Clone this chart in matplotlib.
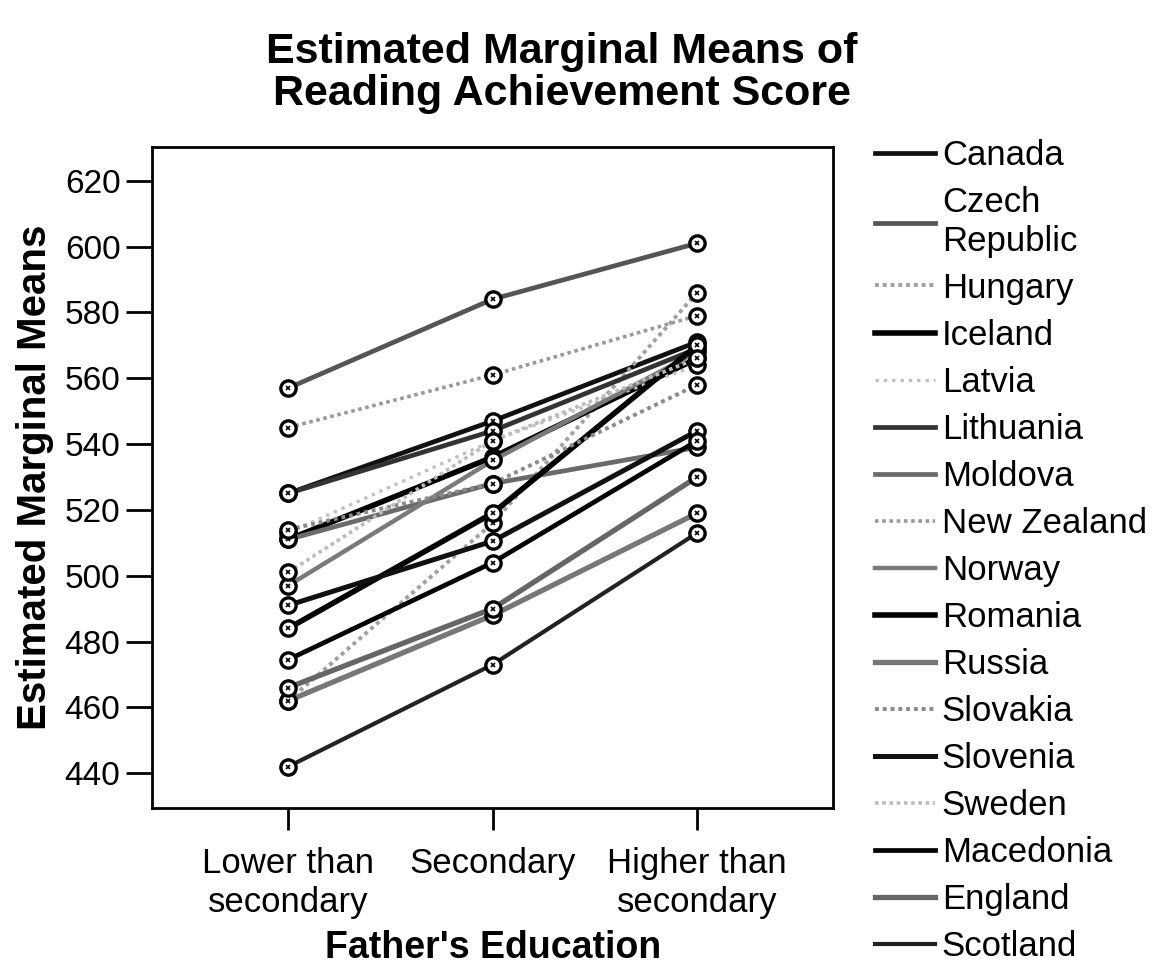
import matplotlib
matplotlib.use("Agg")
import matplotlib.pyplot as plt
from matplotlib.lines import Line2D

plt.rcParams['font.family'] = ['Liberation Sans', 'DejaVu Sans']

# fathers education levels
levels = ['Lower than\nsecondary', 'Secondary', 'Higher than\nsecondary']

countries = ['Canada', 'Czech\nRepublic', 'Hungary', 'Iceland', 'Latvia', 'Lithuania',
             'Moldova', 'New Zealand', 'Norway', 'Romania', 'Russia', 'Slovakia',
             'Slovenia', 'Sweden', 'Macedonia', 'England', 'Scotland']

# estimated marginal means (lower, secondary, higher)
canada = [525, 547, 571]
czech = [557, 584, 601]
hungary = [462, 516, 586]
iceland = [511, 536, 566]
latvia = [513, 541, 564]
lithuania = [525, 544, 569]
moldova = [511, 528, 539]
new_zealand = [545, 561, 579]
norway = [497, 535, 568]
romania = [484, 519, 570]
russia = [462, 488, 519]
slovakia = [514, 528, 558]
slovenia = [491, 510.5, 544]
sweden = [501, 541, 566]
macedonia = [474.5, 504, 541]
england = [466, 490, 530]
scotland = [442, 473, 513]

means = [canada, czech, hungary, iceland, latvia, lithuania, moldova, new_zealand,
         norway, romania, russia, slovakia, slovenia, sweden, macedonia, england, scotland]

# grey-scale look of the printed chart
styles = [
    dict(color='#111111', lw=3.4, ls='-'),
    dict(color='#555555', lw=3.4, ls='-'),
    dict(color='#a0a0a0', lw=2.8, ls=(0, (1, 1))),
    dict(color='#000000', lw=4.0, ls='-'),
    dict(color='#c0c0c0', lw=2.4, ls=(0, (1, 1.5))),
    dict(color='#333333', lw=3.4, ls='-'),
    dict(color='#6a6a6a', lw=3.4, ls='-'),
    dict(color='#999999', lw=2.6, ls=(0, (1, 1))),
    dict(color='#7a7a7a', lw=3.2, ls='-'),
    dict(color='#000000', lw=4.0, ls='-'),
    dict(color='#777777', lw=3.8, ls='-'),
    dict(color='#8a8a8a', lw=2.8, ls=(0, (1, 1))),
    dict(color='#111111', lw=3.6, ls='-'),
    dict(color='#bbbbbb', lw=2.6, ls=(0, (1, 1))),
    dict(color='#000000', lw=3.4, ls='-'),
    dict(color='#666666', lw=3.8, ls='-'),
    dict(color='#222222', lw=3.0, ls='-'),
]

fig = plt.figure(figsize=(11.54, 9.72), dpi=100)
ax = fig.add_axes([0.132, 0.169, 0.590, 0.680])

x = list(range(len(levels)))
handles = []
for name, vals, st in zip(countries, means, styles):
    ax.plot(x, vals, color=st['color'], lw=st['lw'], ls=st['ls'],
            marker='o', ms=11, mfc='white', mec='black', mew=2.4)
    # small mark inside each circle
    ax.plot(x, vals, ls='none', marker='x', ms=3.5, mec='black', mew=1.2)
    handles.append(Line2D([0], [0], color=st['color'], lw=st['lw'], ls=st['ls']))

ax.set_xlim(-0.665, 2.665)
ax.set_ylim(429.5, 630.3)
ax.set_yticks(range(440, 621, 20))
ax.set_xticks(x)
ax.set_xticklabels(levels, fontsize=25, linespacing=1.25)
ax.tick_params(axis='y', labelsize=24, length=19, width=2, direction='out', pad=4)
ax.tick_params(axis='x', length=16, width=2, direction='out', pad=12)
for sp in ax.spines.values():
    sp.set_linewidth(2)

ax.set_ylabel('Estimated Marginal Means', fontsize=29, fontweight='bold', labelpad=8)
ax.set_xlabel("Father's Education", fontsize=27, fontweight='bold', labelpad=8)
fig.suptitle('Estimated Marginal Means of\nReading Achievement Score', x=0.487, y=0.967,
             fontsize=31, fontweight='bold', linespacing=1.05)

fig.legend(handles, countries, loc='upper left', bbox_to_anchor=(0.746, 0.871),
           frameon=False, fontsize=25, handlelength=1.73, handletextpad=0.2,
           labelspacing=0.405, borderaxespad=0)

fig.savefig('out.png', dpi=100)
